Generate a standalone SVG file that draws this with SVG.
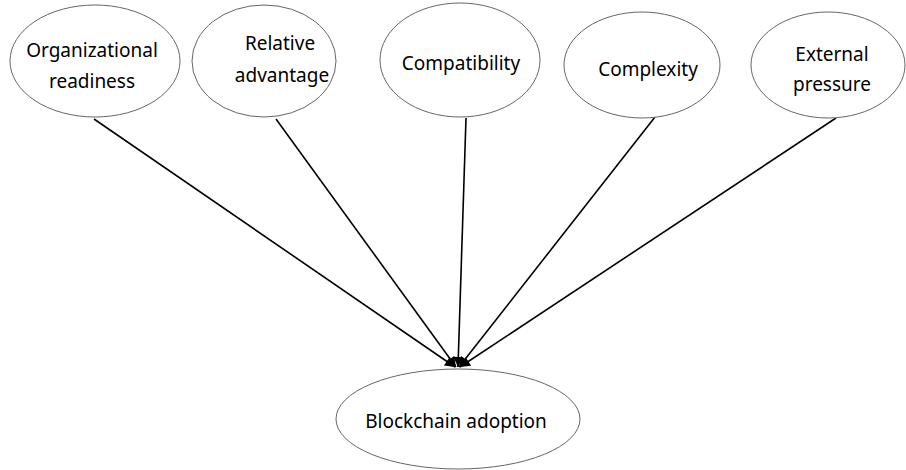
<svg xmlns="http://www.w3.org/2000/svg" width="906" height="470" viewBox="0 0 906 470">
<defs>
<style>
.node ellipse{fill:#fff;stroke:#666;stroke-width:1}
.node text{font-family:"Noto Sans","Open Sans",sans-serif;font-size:19px;fill:#000;text-anchor:middle}
.edge{stroke:#000;stroke-width:1.6;fill:none;marker-end:url(#arr)}
</style>
<marker id="arr" viewBox="0 0 10 10" refX="10" refY="5" markerWidth="12" markerHeight="10" orient="auto" markerUnits="userSpaceOnUse">
<path d="M0,0 L10,5 L0,10 z" fill="#000"/>
</marker>
</defs>
<rect width="906" height="470" fill="#fff"/>
<g id="connectors">
<line class="edge" x1="94" y1="119" x2="455" y2="367"/>
<line class="edge" x1="276" y1="119" x2="456" y2="367"/>
<line class="edge" x1="466" y1="118" x2="458" y2="367"/>
<line class="edge" x1="655" y1="117" x2="459" y2="367"/>
<line class="edge" x1="836" y1="118" x2="460" y2="367"/>
</g>
<g id="organizational-readiness" class="node">
<ellipse cx="95" cy="61" rx="85" ry="56"/>
<text x="92" y="57">Organizational</text>
<text x="92" y="88">readiness</text>
</g>
<g id="relative-advantage" class="node">
<ellipse cx="264" cy="61" rx="72" ry="56"/>
<text x="280" y="50">Relative</text>
<text x="282" y="82">advantage</text>
</g>
<g id="compatibility" class="node">
<ellipse cx="460" cy="60" rx="80" ry="57"/>
<text x="461" y="70">Compatibility</text>
</g>
<g id="complexity" class="node">
<ellipse cx="642" cy="65" rx="78" ry="53"/>
<text x="648" y="76">Complexity</text>
</g>
<g id="external-pressure" class="node">
<ellipse cx="828" cy="65" rx="77" ry="53"/>
<text x="832" y="61">External</text>
<text x="832" y="91">pressure</text>
</g>
<g id="blockchain-adoption" class="node">
<ellipse cx="458" cy="419" rx="122" ry="50"/>
<text x="456" y="428">Blockchain adoption</text>
</g>
</svg>
